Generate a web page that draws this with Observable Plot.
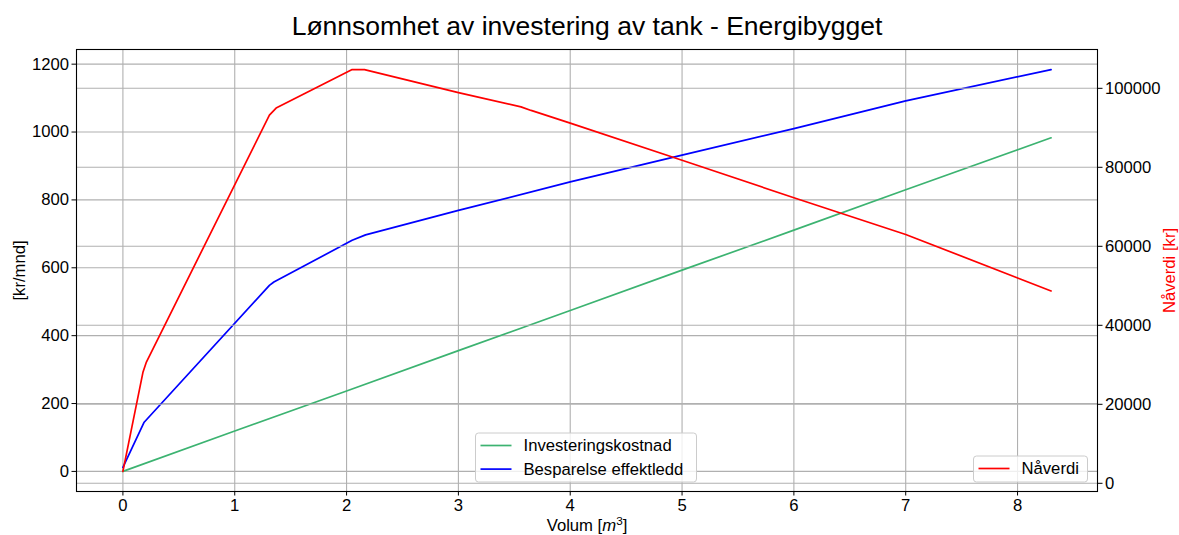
<!DOCTYPE html>
<html>
<head>
<meta charset="utf-8">
<script src="https://cdn.jsdelivr.net/npm/d3@7"></script>
<script src="https://cdn.jsdelivr.net/npm/@observablehq/plot@0.6"></script>
<style>
  html, body { margin: 0; padding: 0; background: white; overflow: hidden; }
  #chart { width: 1179px; height: 535px; }
</style>
</head>
<body>
<div id="chart"></div>
<script>
// ---- Data ----
const title = "Lønnsomhet av investering av tank - Energibygget";

const volumInv = [0, 1, 2, 3, 4, 5, 6, 7, 8.3];
const investeringskostnad = [0, 119, 237, 356, 474, 593, 711, 830, 983];

const volumBesp = [0, 0.19, 1.31, 1.35, 2.05, 2.17, 3, 4, 5, 6, 7, 8.3];
const besparelse = [12, 145, 548, 558, 681, 697, 769, 853, 932, 1010, 1092, 1184];

const volumNav = [0, 0.18, 0.21, 1.31, 1.37, 2.05, 2.16, 3, 3.56, 3.65, 4, 5, 6, 7, 8.3];
const naverdi = [3010, 28200, 30700, 93200, 95000, 104740, 104740, 98900, 95300, 94400, 91200, 81800, 72300, 63000, 48700];

const xTicks = [0, 1, 2, 3, 4, 5, 6, 7, 8];
const leftTicks = [0, 200, 400, 600, 800, 1000, 1200];
const rightTicks = [0, 20000, 40000, 60000, 80000, 100000];

const seriesNames = ["Investeringskostnad", "Besparelse effektledd", "Nåverdi"];
const seriesColors = ["#3cb371", "#0000ff", "#ff0000"];

// ---- Scales (matplotlib-style 5% margins) ----
const allX = volumInv.concat(volumBesp, volumNav);
const xMin = d3.min(allX), xMax = d3.max(allX);
const xPad = (xMax - xMin) * 0.05;
const lMin = d3.min(investeringskostnad.concat(besparelse)), lMax = d3.max(investeringskostnad.concat(besparelse));
const lPad = (lMax - lMin) * 0.05;
const rMin = d3.min(naverdi), rMax = d3.max(naverdi);
const rPad = (rMax - rMin) * 0.05;
const leftDomain = [lMin - lPad, lMax + lPad];
const rightDomain = [rMin - rPad, rMax + rPad];
const toLeft = d3.scaleLinear().domain(rightDomain).range(leftDomain);

const invData = volumInv.map((v, i) => ({x: v, y: investeringskostnad[i]}));
const bespData = volumBesp.map((v, i) => ({x: v, y: besparelse[i]}));
const navData = volumNav.map((v, i) => ({x: v, y: toLeft(naverdi[i])}));

const FONT = "Liberation Sans, Arial, sans-serif";
const FS = 16.67;
const gridStyle = {stroke: "#b0b0b0", strokeOpacity: 1, strokeWidth: 1.1};
const axisStyle = {tickSize: 4.5, tickPadding: 3, fontSize: FS, fill: "#000", stroke: "#000", label: null};

const chart = Plot.plot({
  width: 1179,
  height: 535,
  marginTop: 49,
  marginBottom: 44,
  marginLeft: 76,
  marginRight: 82,
  style: {fontFamily: FONT, fontSize: FS + "px", background: "white", color: "#000"},
  x: {domain: [xMin - xPad, xMax + xPad]},
  y: {domain: leftDomain},
  marks: [
    Plot.gridX(xTicks, gridStyle),
    Plot.gridY(leftTicks, gridStyle),
    Plot.line(invData, {x: "x", y: "y", stroke: seriesColors[0], strokeWidth: 1.7}),
    Plot.line(bespData, {x: "x", y: "y", stroke: seriesColors[1], strokeWidth: 1.7}),
    Plot.gridY(rightTicks.map(toLeft), gridStyle),
    Plot.line(navData, {x: "x", y: "y", stroke: seriesColors[2], strokeWidth: 1.7}),
    Plot.frame({stroke: "#000", strokeWidth: 1.1}),
    Plot.axisX(xTicks, {...axisStyle, anchor: "bottom", tickFormat: d => String(d)}),
    Plot.axisY(leftTicks, {...axisStyle, anchor: "left", tickFormat: d => String(d)}),
    Plot.axisY(rightTicks.map(toLeft), {...axisStyle, anchor: "right", tickFormat: d => String(Math.round(toLeft.invert(d)))}),
    Plot.text(["[kr/mnd]"], {frameAnchor: "left", dx: -57, rotate: -90, textAnchor: "middle", lineAnchor: "middle", fontSize: FS, fill: "#000"}),
    Plot.text(["Nåverdi [kr]"], {frameAnchor: "right", dx: 72, rotate: -90, textAnchor: "middle", lineAnchor: "middle", fontSize: FS, fill: "#ff0000"}),
    Plot.text(["Volum [m3]"], {frameAnchor: "bottom", dy: 34, textAnchor: "middle", lineAnchor: "middle", fontSize: FS, fill: "#000"}),
    Plot.text([title], {frameAnchor: "top", dy: -23, textAnchor: "middle", lineAnchor: "middle", fontSize: 26.5, fill: "#000"})
  ]
});

document.getElementById("chart").appendChild(chart);

// x label with mathtext-like m^3
const svg = d3.select(chart);
svg.selectAll("text").filter(function() { return this.textContent === "Volum [m3]"; }).each(function() {
  const t = d3.select(this);
  t.text(null);
  t.append("tspan").text("Volum [");
  t.append("tspan").attr("font-style", "italic").text("m");
  t.append("tspan").attr("dy", -6).attr("font-size", "11.7px").text("3");
  t.append("tspan").attr("dy", 6).text("]");
});

// Legends (matplotlib style boxes)
function legend(items, x0, y0, w, h) {
  const g = svg.append("g").attr("font-family", FONT).attr("font-size", FS + "px").attr("text-anchor", "start");
  g.append("rect").attr("x", x0).attr("y", y0).attr("width", w).attr("height", h)
    .attr("rx", 3).attr("fill", "white").attr("fill-opacity", 0.8).attr("stroke", "#cccccc").attr("stroke-width", 1);
  items.forEach((it, i) => {
    const cy = y0 + 12.5 + i * 23.6;
    g.append("line").attr("x1", x0 + 5).attr("x2", x0 + 36).attr("y1", cy).attr("y2", cy)
      .attr("stroke", it.color).attr("stroke-width", 1.7);
    g.append("text").attr("x", x0 + 48).attr("y", cy).attr("dy", "0.35em").attr("text-anchor", "start").attr("fill", "#000").text(it.name);
  });
}
legend([{name: seriesNames[0], color: seriesColors[0]}, {name: seriesNames[1], color: seriesColors[1]}], 475.5, 433, 221, 49);
legend([{name: seriesNames[2], color: seriesColors[2]}], 973.5, 456, 114, 26);
</script>
</body>
</html>
